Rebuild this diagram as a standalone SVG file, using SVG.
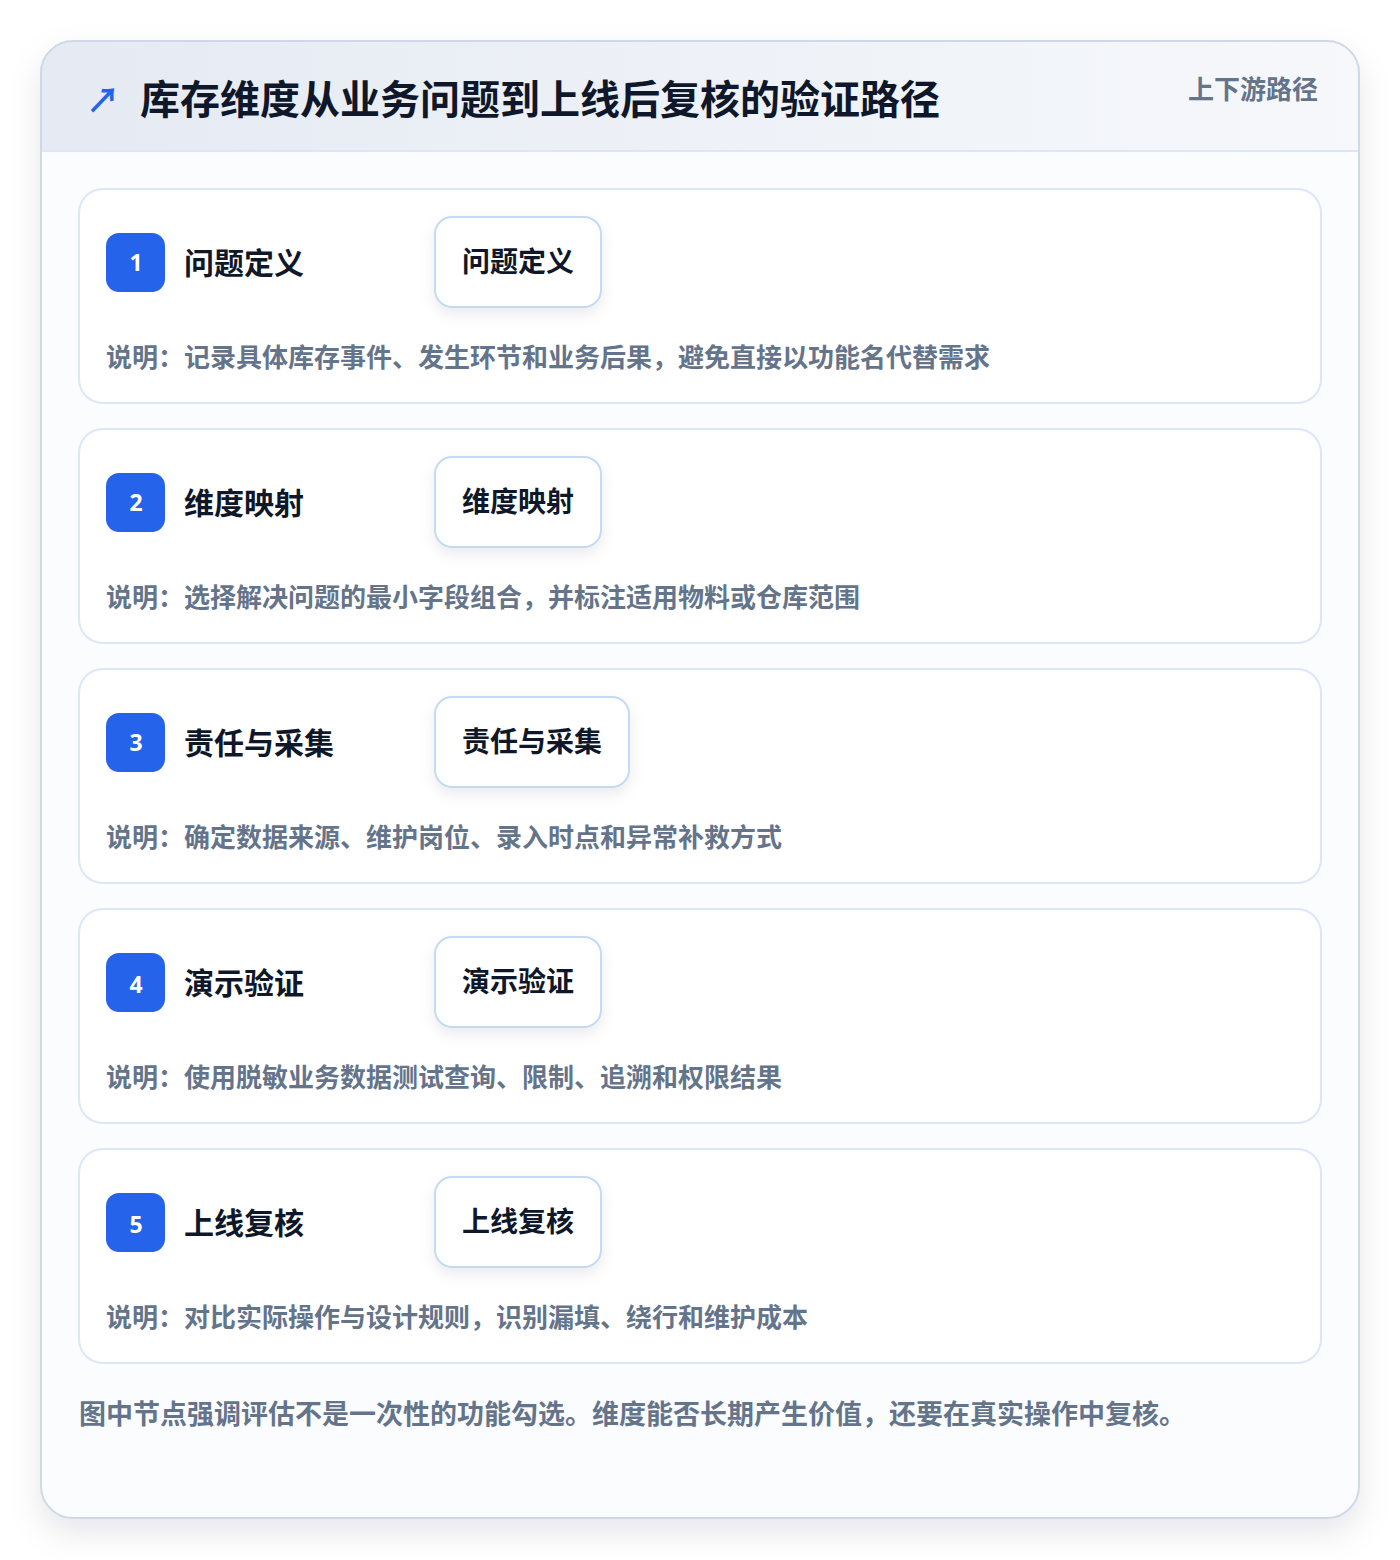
<svg xmlns="http://www.w3.org/2000/svg" width="1400" height="1560" viewBox="0 0 1400 1560">
<defs>
<linearGradient id="hdr" x1="0" y1="0" x2="1" y2="0">
<stop offset="0" stop-color="#e5eaf3"/>
<stop offset="1" stop-color="#f6f8fb"/>
</linearGradient>
<filter id="outerShadow" x="-10%" y="-10%" width="120%" height="120%">
<feDropShadow dx="0" dy="14" stdDeviation="16" flood-color="#0f172a" flood-opacity="0.10"/>
</filter>
<filter id="boxShadow" x="-20%" y="-20%" width="140%" height="160%">
<feDropShadow dx="0" dy="6" stdDeviation="7" flood-color="#0f172a" flood-opacity="0.08"/>
</filter>
<clipPath id="outerClip"><rect x="41" y="41" width="1318" height="1477" rx="32"/></clipPath>
</defs>
<style>
.cjk{font-family:"Noto Sans CJK SC","Noto Sans",sans-serif;font-weight:700}
.title{font-size:40px;fill:#0f172a}
.sub{font-size:26px;fill:#64748b}
.card{fill:#ffffff;stroke:#dbe7f7;stroke-width:2}
.badge{fill:#2563eb}
.num{font-family:"Noto Sans","DejaVu Sans",sans-serif;font-weight:700;font-size:23px;fill:#ffffff}
.ctitle{font-size:30px;fill:#0f172a}
.box{fill:#ffffff;stroke:#c5daf5;stroke-width:2}
.btext{font-size:28px;fill:#0f172a}
.desc{font-size:26px;fill:#64748b}
.foot{font-size:27px;fill:#64748b}
</style>
<rect x="0" y="0" width="1400" height="1560" fill="#ffffff"/>
<g id="frame">
<rect x="41" y="41" width="1318" height="1477" rx="32" fill="#ffffff" filter="url(#outerShadow)"/>
<g clip-path="url(#outerClip)">
<rect x="41" y="41" width="1318" height="1477" fill="#fbfcfe"/>
<rect x="41" y="41" width="1318" height="110" fill="url(#hdr)"/>
<line x1="41" y1="151" x2="1359" y2="151" stroke="#dbe7f7" stroke-width="2"/>
</g>
<rect x="41" y="41" width="1318" height="1477" rx="32" fill="none" stroke="#cfd8e6" stroke-width="2"/>
</g>
<g id="header">
<text class="cjk" x="86" y="113" font-size="34" fill="#2563eb">↗</text>
<text class="cjk title" x="140" y="114">库存维度从业务问题到上线后复核的验证路径</text>
<text class="cjk sub" x="1318" y="99" text-anchor="end">上下游路径</text>
</g>
<g id="connectors"></g>
<g id="step1">
<rect class="card" x="79" y="189" width="1242" height="214" rx="24"/>
<rect class="badge" x="106" y="233" width="59" height="59" rx="13"/>
<text class="num" x="136" y="271" text-anchor="middle">1</text>
<text class="cjk ctitle" x="184" y="274">问题定义</text>
<rect class="box" x="435" y="217" width="166" height="90" rx="17" filter="url(#boxShadow)"/>
<text class="cjk btext" x="518" y="272" text-anchor="middle">问题定义</text>
<text class="cjk desc" x="106" y="367">说明：记录具体库存事件、发生环节和业务后果，避免直接以功能名代替需求</text>
</g>
<g id="step2">
<rect class="card" x="79" y="429" width="1242" height="214" rx="24"/>
<rect class="badge" x="106" y="473" width="59" height="59" rx="13"/>
<text class="num" x="136" y="511" text-anchor="middle">2</text>
<text class="cjk ctitle" x="184" y="514">维度映射</text>
<rect class="box" x="435" y="457" width="166" height="90" rx="17" filter="url(#boxShadow)"/>
<text class="cjk btext" x="518" y="512" text-anchor="middle">维度映射</text>
<text class="cjk desc" x="106" y="607">说明：选择解决问题的最小字段组合，并标注适用物料或仓库范围</text>
</g>
<g id="step3">
<rect class="card" x="79" y="669" width="1242" height="214" rx="24"/>
<rect class="badge" x="106" y="713" width="59" height="59" rx="13"/>
<text class="num" x="136" y="751" text-anchor="middle">3</text>
<text class="cjk ctitle" x="184" y="754">责任与采集</text>
<rect class="box" x="435" y="697" width="194" height="90" rx="17" filter="url(#boxShadow)"/>
<text class="cjk btext" x="532" y="752" text-anchor="middle">责任与采集</text>
<text class="cjk desc" x="106" y="847">说明：确定数据来源、维护岗位、录入时点和异常补救方式</text>
</g>
<g id="step4">
<rect class="card" x="79" y="909" width="1242" height="214" rx="24"/>
<rect class="badge" x="106" y="953" width="59" height="59" rx="13"/>
<text class="num" x="136" y="993" text-anchor="middle">4</text>
<text class="cjk ctitle" x="184" y="994">演示验证</text>
<rect class="box" x="435" y="937" width="166" height="90" rx="17" filter="url(#boxShadow)"/>
<text class="cjk btext" x="518" y="992" text-anchor="middle">演示验证</text>
<text class="cjk desc" x="106" y="1087">说明：使用脱敏业务数据测试查询、限制、追溯和权限结果</text>
</g>
<g id="step5">
<rect class="card" x="79" y="1149" width="1242" height="214" rx="24"/>
<rect class="badge" x="106" y="1193" width="59" height="59" rx="13"/>
<text class="num" x="136" y="1233" text-anchor="middle">5</text>
<text class="cjk ctitle" x="184" y="1234">上线复核</text>
<rect class="box" x="435" y="1177" width="166" height="90" rx="17" filter="url(#boxShadow)"/>
<text class="cjk btext" x="518" y="1232" text-anchor="middle">上线复核</text>
<text class="cjk desc" x="106" y="1327">说明：对比实际操作与设计规则，识别漏填、绕行和维护成本</text>
</g>
<g id="footer">
<text class="cjk foot" x="79" y="1424">图中节点强调评估不是一次性的功能勾选。维度能否长期产生价值，还要在真实操作中复核。</text>
</g>
</svg>
